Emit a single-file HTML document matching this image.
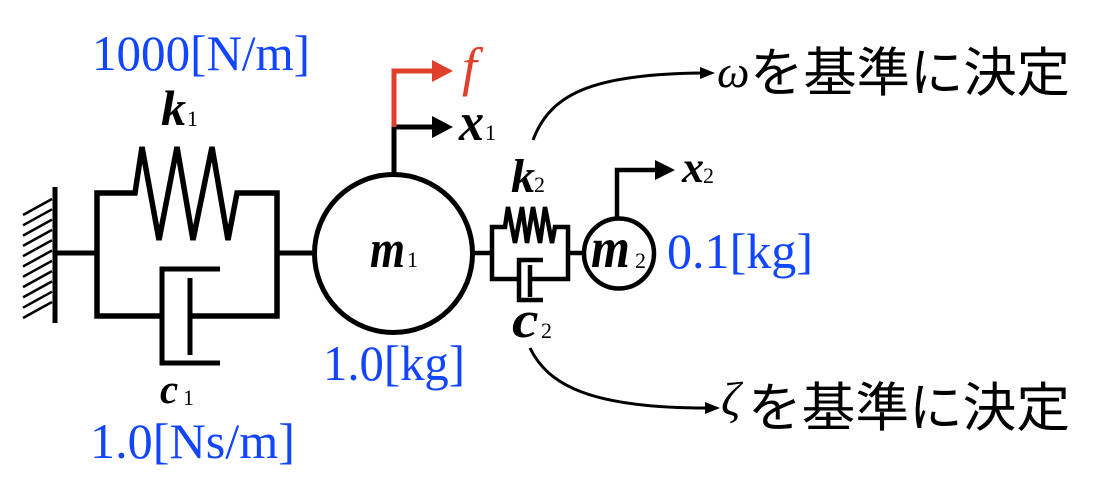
<!DOCTYPE html>
<html><head><meta charset="utf-8"><style>
html,body{margin:0;padding:0;background:#fff;}
svg{display:block;}
</style></head><body>
<svg width="1104" height="488" viewBox="0 0 1104 488" xmlns="http://www.w3.org/2000/svg">
<rect width="1104" height="488" fill="#fff"/>
<g stroke="#000" fill="none" stroke-linecap="butt">
  <line x1="55" y1="187" x2="55" y2="323" stroke-width="5"/>
  <g stroke-width="2.5">
    <line x1="23" y1="215" x2="52" y2="199"/>
    <line x1="23" y1="225.3" x2="52" y2="209.3"/>
    <line x1="23" y1="235.6" x2="52" y2="219.6"/>
    <line x1="23" y1="245.9" x2="52" y2="229.9"/>
    <line x1="23" y1="256.2" x2="52" y2="240.2"/>
    <line x1="23" y1="266.5" x2="52" y2="250.5"/>
    <line x1="23" y1="276.8" x2="52" y2="260.8"/>
    <line x1="23" y1="287.1" x2="52" y2="271.1"/>
    <line x1="23" y1="297.4" x2="52" y2="281.4"/>
    <line x1="23" y1="307.7" x2="52" y2="291.7"/>
    <line x1="23" y1="318" x2="52" y2="302"/>
  </g>
  <line x1="55" y1="253" x2="97" y2="253" stroke-width="5"/>
  <polyline points="162,316 97,316 97,193 135,193 142,147 159,240 177,147 193,240 212,147 228,240 237,193 277,193 277,316 190,316" stroke-width="5.5" stroke-linejoin="miter"/>
  <polyline points="220,269 162,269 162,363 220,363" stroke-width="5"/>
  <line x1="190" y1="278" x2="190" y2="355" stroke-width="5"/>
  <line x1="277" y1="253" x2="312" y2="253" stroke-width="5"/>
  <circle cx="393.5" cy="253.5" r="79" stroke-width="5"/>
  <line x1="394" y1="174" x2="394" y2="125" stroke-width="5"/>
  <line x1="391.5" y1="127" x2="434" y2="127" stroke-width="5"/>
  <line x1="475" y1="253" x2="492" y2="253" stroke-width="4.5"/>
  <polyline points="519,279 492,279 492,227 505,227 508,207 515,243 522,207 527,243 533,207 540,243 545,207 552,243 555,227 568,227 568,279 530,279" stroke-width="4.5"/>
  <polyline points="543,260 519,260 519,300 543,300" stroke-width="4.5"/>
  <line x1="530" y1="265" x2="530" y2="297" stroke-width="4.5"/>
  <line x1="568" y1="253" x2="583" y2="253" stroke-width="4.5"/>
  <circle cx="619" cy="253.5" r="35" stroke-width="4.5"/>
  <polyline points="617,218 617,170 657,170" stroke-width="4.5"/>
  <path d="M533,140 C550,95 590,74 702,73" stroke-width="3"/>
  <path d="M530,348 C548,385 590,408 707,408" stroke-width="3"/>
</g>
<polyline points="394,127 394,71 434,71" fill="none" stroke="#e0402b" stroke-width="5"/>
<polygon points="432,60 453,71 432,82" fill="#e0402b"/>
<polygon points="432,116 453,127 432,138" fill="#000"/>
<polygon points="655,160 675,170 655,180" fill="#000"/>
<polygon points="700,67 715,73 700,79" fill="#000"/>
<polygon points="705,402 720,408 705,414" fill="#000"/>

<g font-family="'Liberation Serif', 'DejaVu Serif', serif" font-size="50" fill="#1145ff">
<text x="92" y="70" textLength="218" lengthAdjust="spacingAndGlyphs">1000[N/m]</text>
<text x="90" y="458" textLength="205" lengthAdjust="spacingAndGlyphs">1.0[Ns/m]</text>
<text x="323" y="380" textLength="142" lengthAdjust="spacingAndGlyphs">1.0[kg]</text>
<text x="667" y="268" textLength="146" lengthAdjust="spacingAndGlyphs">0.1[kg]</text>
</g>

<g font-family="'Liberation Serif', 'DejaVu Serif', serif" font-style="italic" font-weight="bold" fill="#000">
<text font-size="50" x="161" y="125">k</text>
<text font-size="41" x="160" y="403">c</text>
<text transform="translate(370,267) scale(1,1.2)" font-size="45">m</text>
<text transform="translate(459,140) scale(1,1.08)" font-size="50">x</text>
<text font-size="48" x="511" y="192">k</text>
<text transform="translate(512,337) scale(1.15,1)" font-size="52">c</text>
<text transform="translate(591,267) scale(1,1.15)" font-size="50">m</text>
<text font-size="44" x="682" y="182">x</text>
</g>
<text font-family="'Liberation Serif', 'DejaVu Serif', serif" font-style="italic" font-size="54" x="462" y="85" fill="#e0402b">f</text>

<g font-family="'Liberation Serif', 'DejaVu Serif', serif" font-size="22" fill="#000">
<text x="187" y="126">1</text>
<text x="183" y="405">1</text>
<text x="407" y="267">1</text>
<text x="485" y="140">1</text>
<text x="534" y="192">2</text>
<text x="541" y="338">2</text>
<text x="635" y="268">2</text>
<text x="703" y="183">2</text>
</g>

<g font-family="'Liberation Serif', 'DejaVu Serif', serif" font-style="italic" fill="#000">
<text font-size="46" x="717" y="87">ω</text>
<text font-size="48" x="721" y="415">ζ</text>
</g>
<g font-family="'Liberation Sans', 'Noto Sans CJK JP', sans-serif" font-size="53" fill="#000">
<text x="750" y="91" textLength="320" lengthAdjust="spacingAndGlyphs">を基準に決定</text>
<text x="748" y="426" textLength="322" lengthAdjust="spacingAndGlyphs">を基準に決定</text>
</g>
</svg>
</body></html>
